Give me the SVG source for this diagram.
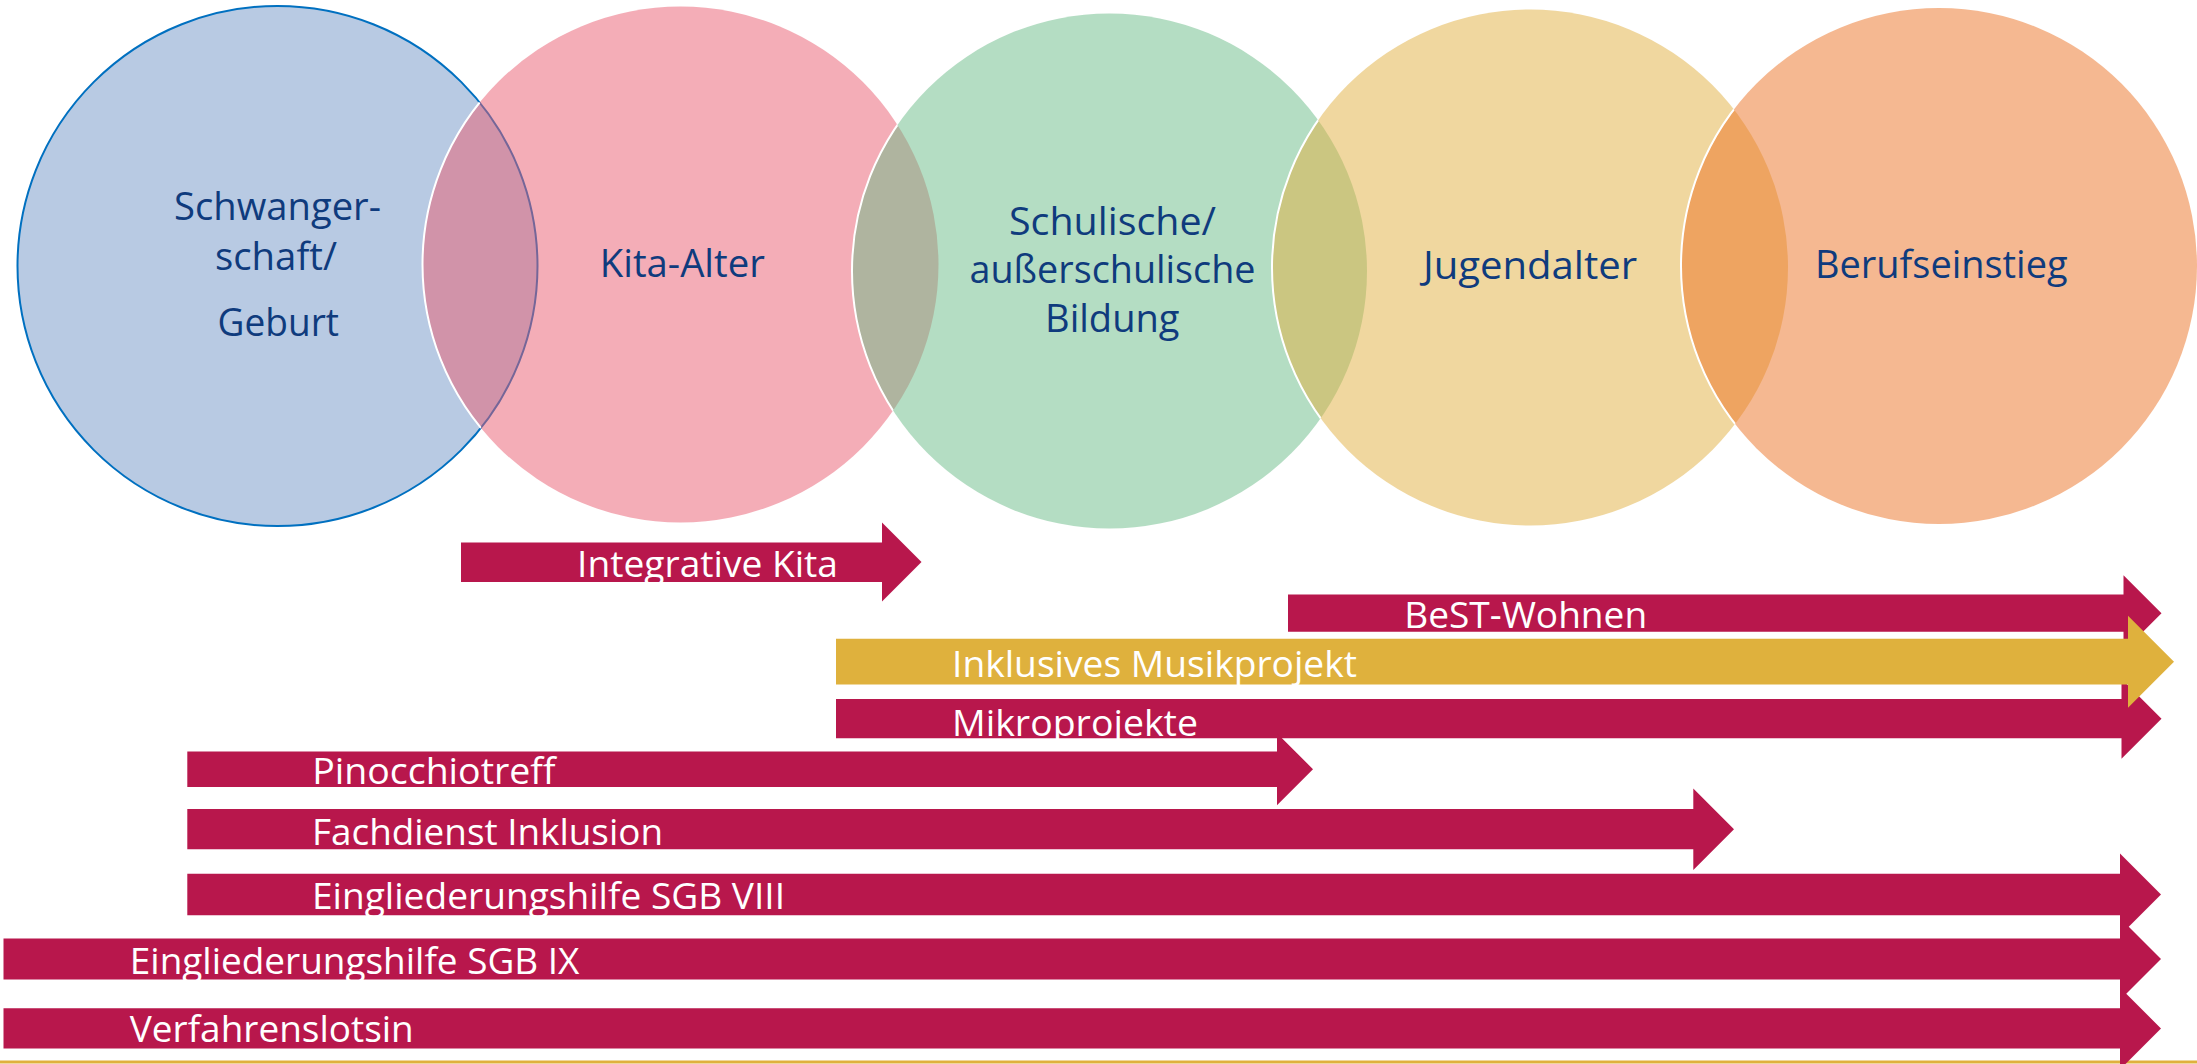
<svg xmlns="http://www.w3.org/2000/svg" width="2197" height="1064" viewBox="0 0 2197 1064">
<style>
.ct{font-family:"Open Sans","Noto Sans","Liberation Sans",sans-serif;font-size:38px;fill:#0F3B7D;text-anchor:middle}
.at{font-family:"Open Sans","Noto Sans","Liberation Sans",sans-serif;font-size:36px;fill:#FFFFFF}
.arr{fill:#B8174C}
.arrY{fill:#DFB13D}
.ring{fill:none;stroke:#FFFFFF;stroke-width:2}
</style>
<defs>
<clipPath id="k1"><circle cx="277.5" cy="266" r="260"/></clipPath>
<clipPath id="k2"><circle cx="680.5" cy="264.5" r="258"/></clipPath>
<clipPath id="k3"><circle cx="1109.5" cy="271" r="257.5"/></clipPath>
<clipPath id="k4"><circle cx="1530" cy="267.5" r="258"/></clipPath>
</defs>
<rect width="2197" height="1064" fill="#FFFFFF"/>
<g id="stage-schwangerschaft">
<circle cx="277.5" cy="266" r="260" fill="#B8CAE3" stroke="#0070C0" stroke-width="2"/>
</g>
<g id="stage-kita">
<circle cx="680.5" cy="264.5" r="258" fill="rgb(233,91,111)" fill-opacity="0.5"/>
<circle class="ring" cx="680.5" cy="264.5" r="258" clip-path="url(#k1)"/>
</g>
<g id="stage-schule">
<circle cx="1109.5" cy="271" r="257.5" fill="rgb(105,187,135)" fill-opacity="0.5"/>
<circle class="ring" cx="1109.5" cy="271" r="257.5" clip-path="url(#k2)"/>
</g>
<g id="stage-jugend">
<circle cx="1530" cy="267.5" r="258" fill="rgb(225,175,63)" fill-opacity="0.5"/>
<circle class="ring" cx="1530" cy="267.5" r="258" clip-path="url(#k3)"/>
</g>
<g id="stage-beruf">
<circle cx="1939" cy="266" r="258" fill="rgb(235,113,35)" fill-opacity="0.5"/>
<circle class="ring" cx="1939" cy="266" r="258" clip-path="url(#k4)"/>
</g>
<g id="stage-labels">
<text class="ct" x="277.5" y="220.4" textLength="207" lengthAdjust="spacingAndGlyphs">Schwanger-</text>
<text class="ct" x="276" y="269.6" textLength="122" lengthAdjust="spacingAndGlyphs">schaft/</text>
<text class="ct" x="278.3" y="335.7" textLength="121.5" lengthAdjust="spacingAndGlyphs">Geburt</text>
<text class="ct" x="682.3" y="276.5" textLength="165" lengthAdjust="spacingAndGlyphs">Kita-Alter</text>
<text class="ct" x="1112.5" y="235.2" textLength="207" lengthAdjust="spacingAndGlyphs">Schulische/</text>
<text class="ct" x="1112.5" y="283" textLength="286" lengthAdjust="spacingAndGlyphs">außerschulische</text>
<text class="ct" x="1112.3" y="331.6" textLength="134.5" lengthAdjust="spacingAndGlyphs">Bildung</text>
<text class="ct" x="1530" y="279" textLength="214" lengthAdjust="spacingAndGlyphs">Jugendalter</text>
<text class="ct" x="1941.3" y="278.2" textLength="252.6" lengthAdjust="spacingAndGlyphs">Berufseinstieg</text>
</g>
<g id="connectors">
<rect x="0" y="1060.5" width="2197" height="3" fill="#DFB13D"/>
<g id="arrow-kita">
<polygon class="arr" points="461,542.4 882,542.4 882,522.5 921.5,562 882,601.5 882,582 461,582"/>
<text class="at" x="577" y="577.3" textLength="261" lengthAdjust="spacingAndGlyphs">Integrative Kita</text>
</g>
<g id="arrow-best">
<polygon class="arr" points="1288,594.6 2123.5,594.6 2123.5,575.2 2161.5,613.2 2123.5,651.2 2123.5,631.7 1288,631.7"/>
<text class="at" x="1404.3" y="628.4" textLength="242.8" lengthAdjust="spacingAndGlyphs">BeST-Wohnen</text>
</g>
<g id="arrow-mikro">
<polygon class="arr" points="836,699 2121.5,699 2121.5,678.7 2161.5,718.7 2121.5,758.7 2121.5,738.3 836,738.3"/>
<text class="at" x="952" y="735.6" textLength="246" lengthAdjust="spacingAndGlyphs">Mikroprojekte</text>
</g>
<g id="arrow-pinocchio">
<polygon class="arr" points="187.3,751.4 1277,751.4 1277,733.2 1313,769.2 1277,805.2 1277,787 187.3,787"/>
<text class="at" x="312.2" y="784" textLength="243.4" lengthAdjust="spacingAndGlyphs">Pinocchiotreff</text>
</g>
<g id="arrow-fachdienst">
<polygon class="arr" points="187.3,809 1693.3,809 1693.3,788.5 1734,829.2 1693.3,869.9 1693.3,849.3 187.3,849.3"/>
<text class="at" x="312" y="844.6" textLength="351" lengthAdjust="spacingAndGlyphs">Fachdienst Inklusion</text>
</g>
<g id="arrow-sgb8">
<polygon class="arr" points="187.3,873.7 2120,873.7 2120,853.5 2161,894.5 2120,935.5 2120,915.3 187.3,915.3"/>
<text class="at" x="312" y="909.4" textLength="473" lengthAdjust="spacingAndGlyphs">Eingliederungshilfe SGB VIII</text>
</g>
<g id="arrow-sgb9">
<polygon class="arr" points="3.5,938.4 2120,938.4 2120,917.9 2161,958.9 2120,999.9 2120,979.4 3.5,979.4"/>
<text class="at" x="129.8" y="974" textLength="449.6" lengthAdjust="spacingAndGlyphs">Eingliederungshilfe SGB IX</text>
</g>
<g id="arrow-lotsin">
<polygon class="arr" points="3.5,1008.3 2120,1008.3 2120,987.5 2161,1028.5 2120,1069.5 2120,1048.6 3.5,1048.6"/>
<text class="at" x="129.8" y="1042" textLength="284" lengthAdjust="spacingAndGlyphs">Verfahrenslotsin</text>
</g>
<g id="arrow-musik">
<polygon class="arrY" points="836,638.8 2128,638.8 2128,615.7 2174,661.7 2128,707.7 2128,684.5 836,684.5"/>
<text class="at" x="952" y="677.3" textLength="405" lengthAdjust="spacingAndGlyphs">Inklusives Musikprojekt</text>
</g>
</g>
</svg>
